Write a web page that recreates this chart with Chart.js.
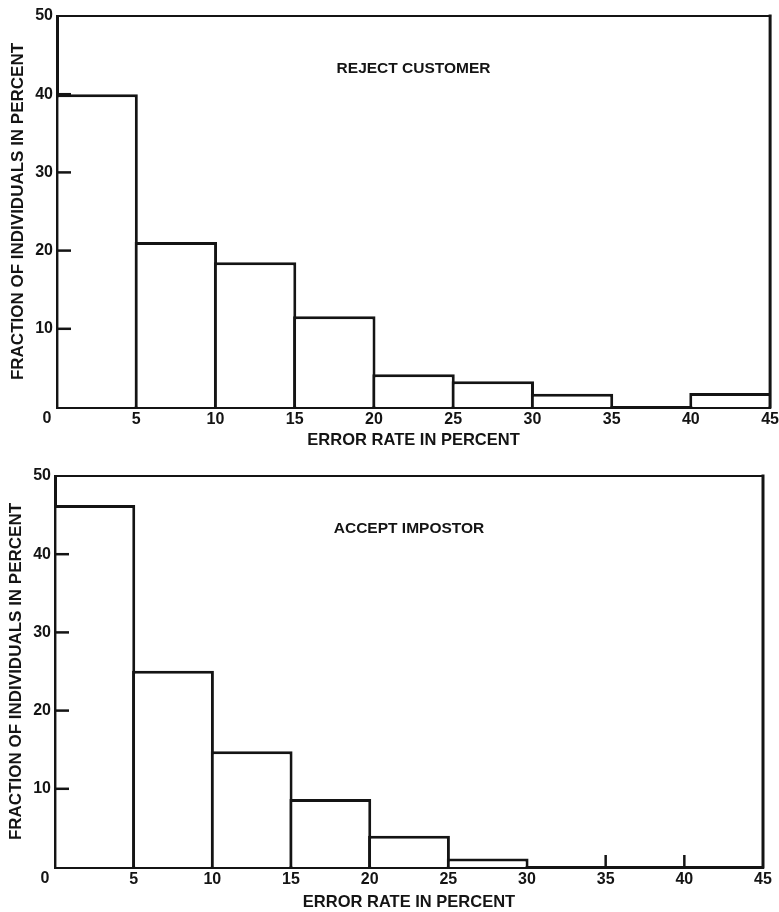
<!DOCTYPE html>
<html>
<head>
<meta charset="utf-8">
<script src="https://cdn.jsdelivr.net/npm/chart.js@4.4.0/dist/chart.umd.min.js"></script>
<style>
    html, body { margin: 0; padding: 0; background: #fff; overflow: hidden; }
    .panel { position: relative; width: 779px; height: 456px; }
    .panel.wide { width: 782px; }
</style>
</head>
<body>
<div class="panel wide"><canvas id="rejectChart"></canvas></div>
<div class="panel"><canvas id="impostorChart"></canvas></div>
<script>
/* ── data ── */
const binStarts = [0, 5, 10, 15, 20, 25, 30, 35, 40];
const binWidth = 5;
const xTickValues = [0, 5, 10, 15, 20, 25, 30, 35, 40, 45];
const yTickValues = [0, 10, 20, 30, 40, 50];
const rejectCustomer = [40, 21.1, 18.5, 11.6, 4.2, 3.3, 1.7, 0, 1.8];
const acceptImpostor = [46.3, 25.1, 14.8, 8.7, 4.0, 1.1, 0, 0, 0];
const panelTitles = ['REJECT CUSTOMER', 'ACCEPT IMPOSTOR'];
const xAxisTitle = 'ERROR RATE IN PERCENT';
const yAxisTitle = 'FRACTION OF INDIVIDUALS IN PERCENT';

const INK = '#141414';
const FONT = '"Liberation Sans", Arial, sans-serif';

// frame, inward tick marks, corner "0" and panel label
const framePlugin = {
    id: 'frame',
    afterDraw(chart, args, opts) {
        const { ctx, chartArea: a, scales: { x, y } } = chart;
        const vals = chart.data.datasets[0].data;
        ctx.save();
        ctx.strokeStyle = INK;
        ctx.lineCap = 'square';

        ctx.lineWidth = 2;
        ctx.beginPath(); ctx.moveTo(a.left, a.top); ctx.lineTo(a.right, a.top); ctx.stroke();
        ctx.lineWidth = 3;
        ctx.beginPath(); ctx.moveTo(a.right, a.top); ctx.lineTo(a.right, a.bottom); ctx.stroke();

        ctx.lineWidth = 2.5;
        ctx.lineCap = 'butt';
        y.ticks.forEach(t => {
            if (t.value <= y.min || t.value >= y.max) return;
            const py = y.getPixelForValue(t.value);
            ctx.beginPath(); ctx.moveTo(a.left, py); ctx.lineTo(a.left + 14, py); ctx.stroke();
        });
        // x ticks only show where no bar edge sits on them
        x.ticks.forEach(t => {
            if (t.value <= x.min || t.value >= x.max) return;
            const i = binStarts.indexOf(t.value);
            if (vals[i].y > 0 || vals[i - 1].y > 0) return;
            const px = x.getPixelForValue(t.value);
            ctx.beginPath(); ctx.moveTo(px, a.bottom); ctx.lineTo(px, a.bottom - 12); ctx.stroke();
        });

        ctx.fillStyle = INK;
        ctx.textAlign = 'center';
        ctx.textBaseline = 'middle';
        ctx.font = `bold 16px ${FONT}`;
        ctx.fillText('0', x.getPixelForValue(0) - 10, a.bottom + opts.labelOffset);

        ctx.font = `bold 15.5px ${FONT}`;
        ctx.fillText(opts.text, x.getPixelForValue(22.5), y.getPixelForValue(43.3));
        ctx.restore();
    }
};

function makeHistogram(id, values, title, geo) {
    const ctx = document.getElementById(id);
    return new Chart(ctx, {
        type: 'bar',
        data: {
            datasets: [{
                data: binStarts.map((s, i) => ({ x: s + binWidth / 2, y: values[i] })),
                backgroundColor: '#ffffff',
                borderColor: INK,
                borderWidth: 3,
                borderSkipped: 'bottom',
                barPercentage: 1.04,
                categoryPercentage: 1,
            }]
        },
        options: {
            responsive: true,
            maintainAspectRatio: false,
            animation: false,
            events: [],
            layout: { padding: { left: 0, top: geo.top, right: geo.right, bottom: 0 } },
            plugins: {
                legend: { display: false },
                tooltip: { enabled: false },
                frame: { text: title, labelOffset: geo.labelPad + 9 }
            },
            scales: {
                x: {
                    type: 'linear',
                    min: 0, max: 45,
                    offset: false,
                    z: 1,
                    afterBuildTicks: s => { s.ticks = xTickValues.map(v => ({ value: v })); },
                    afterFit: s => { s.height = geo.xAxisH; },
                    grid: { display: false, drawTicks: false, offset: false },
                    border: { display: true, color: INK, width: 3 },
                    ticks: {
                        color: INK, padding: geo.labelPad, maxRotation: 0, autoSkip: false,
                        font: { family: FONT, size: 16, weight: 'bold' },
                        callback: v => v === 0 ? '' : String(v)
                    },
                    title: {
                        display: true, text: xAxisTitle, color: INK,
                        font: { family: FONT, size: 16.5, weight: 'bold' },
                        padding: { top: 0, bottom: geo.xTitlePad }
                    }
                },
                y: {
                    min: 0, max: 50,
                    z: 1,
                    afterBuildTicks: s => { s.ticks = yTickValues.map(v => ({ value: v })); },
                    afterFit: s => { s.width = geo.yAxisW; },
                    grid: { display: false, drawTicks: false },
                    border: { display: true, color: INK, width: 3 },
                    ticks: {
                        color: INK, padding: 4,
                        font: { family: FONT, size: 16, weight: 'bold' },
                        callback: v => v === 0 ? '' : String(v)
                    },
                    title: {
                        display: true, text: yAxisTitle, color: INK,
                        font: { family: FONT, size: 17, weight: 'bold' },
                        padding: { top: geo.yTitlePad, bottom: 0 }
                    }
                }
            }
        },
        plugins: [framePlugin]
    });
}

makeHistogram('rejectChart', rejectCustomer, panelTitles[0],
    { top: 16, right: 0, xAxisH: 49, yAxisW: 57, labelPad: 3, xTitlePad: 6, yTitlePad: 8 });
makeHistogram('impostorChart', acceptImpostor, panelTitles[1],
    { top: 20, right: 16, xAxisH: 45, yAxisW: 55, labelPad: 3, xTitlePad: 0, yTitlePad: 6 });
</script>
</body>
</html>
